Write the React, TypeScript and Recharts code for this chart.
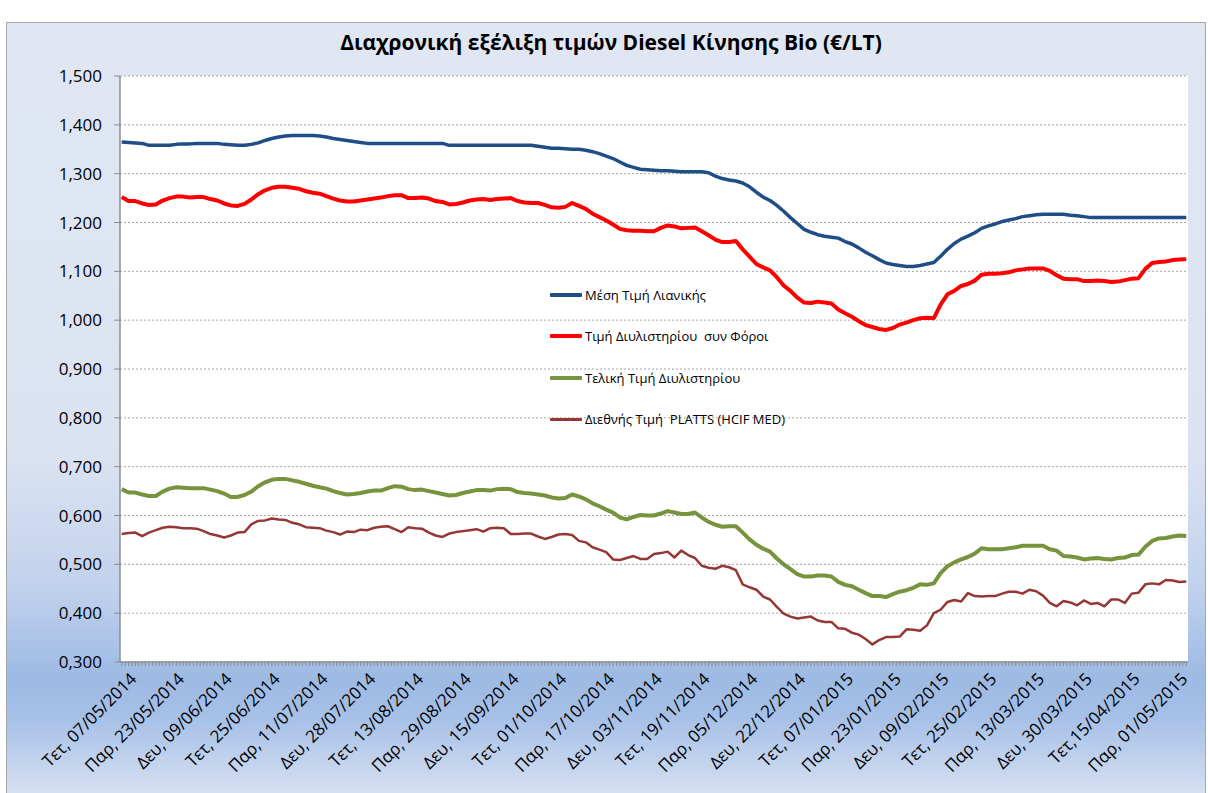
import React from 'react';
import { LineChart, Line, XAxis, YAxis, CartesianGrid, Legend } from 'recharts';

const tickLabels = [
  'Τετ, 07/05/2014', 'Παρ, 23/05/2014', 'Δευ, 09/06/2014', 'Τετ, 25/06/2014',
  'Παρ, 11/07/2014', 'Δευ, 28/07/2014', 'Τετ, 13/08/2014', 'Παρ, 29/08/2014',
  'Δευ, 15/09/2014', 'Τετ, 01/10/2014', 'Παρ, 17/10/2014', 'Δευ, 03/11/2014',
  'Τετ, 19/11/2014', 'Παρ, 05/12/2014', 'Δευ, 22/12/2014', 'Τετ, 07/01/2015',
  'Παρ, 23/01/2015', 'Δευ, 09/02/2015', 'Τετ, 25/02/2015', 'Παρ, 13/03/2015',
  'Δευ, 30/03/2015', 'Τετ,15/04/2015', 'Παρ, 01/05/2015',
];

const retailPrice = [
  1.365, 1.364, 1.363, 1.362, 1.358, 1.358, 1.358, 1.358, 1.360, 1.361,
  1.361, 1.362, 1.362, 1.362, 1.362, 1.360, 1.359, 1.358, 1.358, 1.360,
  1.363, 1.368, 1.372, 1.375, 1.377, 1.378, 1.378, 1.378, 1.378, 1.377,
  1.375, 1.372, 1.370, 1.368, 1.366, 1.364, 1.362, 1.362, 1.362, 1.362,
  1.362, 1.362, 1.362, 1.362, 1.362, 1.362, 1.362, 1.362, 1.358, 1.358,
  1.358, 1.358, 1.358, 1.358, 1.358, 1.358, 1.358, 1.358, 1.358, 1.358,
  1.358, 1.356, 1.354, 1.352, 1.352, 1.351, 1.350, 1.350, 1.348, 1.345,
  1.341, 1.336, 1.331, 1.324, 1.317, 1.313, 1.309, 1.308, 1.307, 1.306,
  1.306, 1.305, 1.304, 1.304, 1.304, 1.304, 1.302, 1.295, 1.290, 1.287,
  1.285, 1.281, 1.273, 1.262, 1.252, 1.245, 1.235, 1.223, 1.210, 1.198,
  1.186, 1.180, 1.175, 1.172, 1.170, 1.168, 1.161, 1.156, 1.148, 1.139,
  1.132, 1.124, 1.117, 1.114, 1.112, 1.110, 1.110, 1.112, 1.115, 1.118,
  1.131, 1.145, 1.157, 1.166, 1.172, 1.179, 1.188, 1.193, 1.197, 1.202,
  1.205, 1.208, 1.212, 1.214, 1.216, 1.217, 1.217, 1.217, 1.217, 1.215,
  1.214, 1.212, 1.210, 1.210, 1.210, 1.210, 1.210, 1.210, 1.210, 1.210,
  1.210, 1.210, 1.210, 1.210, 1.210, 1.210, 1.210,
];

const refineryWithTax = [
  1.252, 1.244, 1.244, 1.239, 1.236, 1.237, 1.245, 1.250, 1.253, 1.253,
  1.251, 1.252, 1.252, 1.248, 1.245, 1.239, 1.235, 1.234, 1.238, 1.247,
  1.258, 1.266, 1.271, 1.273, 1.273, 1.271, 1.269, 1.264, 1.261, 1.259,
  1.254, 1.249, 1.245, 1.243, 1.243, 1.245, 1.247, 1.249, 1.251, 1.254,
  1.256, 1.256, 1.250, 1.250, 1.251, 1.249, 1.244, 1.242, 1.237, 1.238,
  1.241, 1.245, 1.247, 1.248, 1.246, 1.248, 1.249, 1.250, 1.244, 1.241,
  1.240, 1.240, 1.236, 1.231, 1.230, 1.232, 1.240, 1.234, 1.228, 1.218,
  1.211, 1.204, 1.196, 1.187, 1.184, 1.183, 1.183, 1.182, 1.182, 1.189,
  1.194, 1.192, 1.188, 1.189, 1.190, 1.182, 1.174, 1.165, 1.160, 1.160,
  1.162, 1.145, 1.130, 1.115, 1.108, 1.102, 1.088, 1.071, 1.060, 1.046,
  1.036, 1.035, 1.038, 1.036, 1.034, 1.022, 1.014, 1.007, 0.998, 0.990,
  0.986, 0.982, 0.980, 0.984, 0.991, 0.995, 1.000, 1.004, 1.005, 1.004,
  1.032, 1.053, 1.060, 1.070, 1.074, 1.081, 1.093, 1.095, 1.095, 1.096,
  1.098, 1.102, 1.104, 1.106, 1.106, 1.106, 1.101, 1.092, 1.085, 1.084,
  1.084, 1.080, 1.080, 1.081, 1.080, 1.078, 1.079, 1.082, 1.085, 1.086,
  1.105, 1.117, 1.119, 1.120, 1.123, 1.124, 1.125,
];

const refineryFinal = [
  0.654, 0.647, 0.647, 0.643, 0.640, 0.640, 0.649, 0.655, 0.658, 0.657,
  0.656, 0.656, 0.656, 0.653, 0.650, 0.645, 0.638, 0.638, 0.642, 0.649,
  0.660, 0.668, 0.673, 0.675, 0.675, 0.672, 0.669, 0.665, 0.661, 0.658,
  0.655, 0.650, 0.646, 0.643, 0.644, 0.646, 0.649, 0.651, 0.651, 0.656,
  0.660, 0.659, 0.654, 0.652, 0.653, 0.650, 0.647, 0.644, 0.641, 0.642,
  0.646, 0.649, 0.652, 0.652, 0.651, 0.654, 0.655, 0.654, 0.648, 0.646,
  0.645, 0.643, 0.641, 0.637, 0.635, 0.636, 0.643, 0.639, 0.633, 0.625,
  0.619, 0.612, 0.606, 0.596, 0.592, 0.597, 0.601, 0.600, 0.600, 0.604,
  0.609, 0.606, 0.603, 0.603, 0.606, 0.596, 0.587, 0.581, 0.577, 0.578,
  0.578, 0.565, 0.551, 0.540, 0.532, 0.526, 0.512, 0.500, 0.490, 0.480,
  0.475, 0.475, 0.477, 0.477, 0.475, 0.464, 0.458, 0.455, 0.448, 0.441,
  0.435, 0.435, 0.433, 0.439, 0.444, 0.447, 0.452, 0.459, 0.458, 0.461,
  0.482, 0.496, 0.504, 0.510, 0.515, 0.522, 0.533, 0.531, 0.531, 0.531,
  0.533, 0.535, 0.538, 0.538, 0.538, 0.538, 0.531, 0.528, 0.517, 0.516,
  0.514, 0.510, 0.512, 0.513, 0.511, 0.510, 0.513, 0.514, 0.519, 0.520,
  0.536, 0.548, 0.553, 0.554, 0.557, 0.559, 0.558,
];

const plattsPrice = [
  0.562, 0.564, 0.565, 0.558, 0.565, 0.570, 0.575, 0.577, 0.576, 0.574,
  0.574, 0.573, 0.568, 0.562, 0.559, 0.555, 0.559, 0.565, 0.566, 0.582,
  0.589, 0.590, 0.594, 0.592, 0.591, 0.585, 0.582, 0.576, 0.575, 0.574,
  0.569, 0.566, 0.561, 0.567, 0.566, 0.571, 0.570, 0.575, 0.577, 0.578,
  0.572, 0.566, 0.576, 0.574, 0.573, 0.565, 0.559, 0.556, 0.563, 0.566,
  0.568, 0.570, 0.572, 0.567, 0.574, 0.575, 0.574, 0.562, 0.562, 0.563,
  0.563, 0.557, 0.552, 0.556, 0.561, 0.562, 0.560, 0.548, 0.545, 0.535,
  0.530, 0.525, 0.510, 0.509, 0.513, 0.517, 0.511, 0.511, 0.521, 0.523,
  0.526, 0.514, 0.528, 0.519, 0.513, 0.497, 0.493, 0.491, 0.497, 0.494,
  0.488, 0.459, 0.453, 0.448, 0.434, 0.428, 0.413, 0.399, 0.393, 0.389,
  0.391, 0.393, 0.385, 0.382, 0.382, 0.369, 0.368, 0.360, 0.356, 0.347,
  0.336, 0.345, 0.351, 0.351, 0.352, 0.367, 0.366, 0.364, 0.375, 0.400,
  0.407, 0.423, 0.427, 0.424, 0.441, 0.435, 0.434, 0.435, 0.435, 0.440,
  0.444, 0.444, 0.440, 0.448, 0.445, 0.436, 0.421, 0.414, 0.425, 0.422,
  0.416, 0.426, 0.419, 0.421, 0.414, 0.428, 0.428, 0.421, 0.440, 0.442,
  0.459, 0.461, 0.459, 0.468, 0.467, 0.464, 0.465,
];

const yTicks = [0.3, 0.4, 0.5, 0.6, 0.7, 0.8, 0.9, 1.0, 1.1, 1.2, 1.3, 1.4, 1.5];

const SAMPLE_STEP = 2; // trading days between read samples
const LABEL_STEP = 14; // trading days between axis labels
const DAY_COUNT = 313; // categories on the axis

const seriesDefs = [
  { key: 'retail', name: 'Μέση Τιμή Λιανικής', color: '#1F4E87', width: 3.5 },
  { key: 'refTax', name: 'Τιμή Διυλιστηρίου  συν Φόροι', color: '#FF0000', width: 4 },
  { key: 'refinery', name: 'Τελική Τιμή Διυλιστηρίου', color: '#77933C', width: 4 },
  { key: 'platts', name: 'Διεθνής Τιμή  PLATTS (HCIF MED)', color: '#953735', width: 2.5 },
];

const data = retailPrice.map((v, k) => ({
  day: k * SAMPLE_STEP,
  retail: v,
  refTax: refineryWithTax[k],
  refinery: refineryFinal[k],
  platts: plattsPrice[k],
}));

const dayTicks = Array.from({ length: DAY_COUNT }, (_, i) => i);

const FONT = '"Open Sans", "Noto Sans", sans-serif';

const XTick = (props: any) => {
  const { x, y, payload } = props;
  const v = payload.value;
  if (v % LABEL_STEP !== 0) return <g />;
  const label = tickLabels[v / LABEL_STEP];
  if (!label) return <g />;
  return (
    <g transform={`translate(${x + 16},${y + 12})`}>
      <text textAnchor="end" transform="rotate(-45)" fontSize={17} fontFamily={FONT} fill="#000">
        {label}
      </text>
    </g>
  );
};

const LegendContent = () => (
  <div style={{ fontFamily: FONT, fontSize: 13, color: '#000' }}>
    {seriesDefs.map((s) => (
      <div key={s.key} style={{ height: 41.5, display: 'flex', alignItems: 'center' }}>
        <div style={{ width: 32, height: s.width, background: s.color, marginRight: 3, borderRadius: 1 }} />
        <span style={{ whiteSpace: 'pre' }}>{s.name}</span>
      </div>
    ))}
  </div>
);

export default function App() {
  return (
    <div style={{ position: 'absolute', left: 0, top: 0, width: 1208, height: 793, background: '#fff', overflow: 'hidden' }}>
      <div
        style={{
          position: 'absolute', left: 6, top: 22, width: 1198, height: 780,
          border: '1px solid #a6a6a6',
          background: 'linear-gradient(to bottom, #e0e7f3 0%, #dbe3f2 55%, #c2d2ed 72%, #9dbae4 84%, #a6c0e7 89%, #dbe4f3 100%)',
        }}
      />
      <div style={{ position: 'absolute', left: 0, top: 0 }}>
        <LineChart width={1208} height={793} data={data} margin={{ top: 76, right: 20, bottom: 81, left: 60 }}>
          <text x={611} y={50} textAnchor="middle" fontFamily={FONT} fontWeight={700} fontSize={21} fill="#000">
            Διαχρονική εξέλιξη τιμών Diesel Κίνησης Bio (€/LT)
          </text>
          <CartesianGrid vertical={false} fill="#ffffff" stroke="#a6a6a6" strokeDasharray="2 2" />
          <XAxis
            dataKey="day"
            type="number"
            domain={[-0.5, DAY_COUNT - 0.5]}
            allowDataOverflow
            ticks={dayTicks}
            interval={0}
            tickSize={4}
            tickLine={{ stroke: '#8c8c8c' }}
            axisLine={{ stroke: '#8c8c8c', strokeWidth: 1.5 }}
            tick={<XTick />}
            height={50}
          />
          <YAxis
            type="number"
            domain={[0.3, 1.5]}
            ticks={yTicks}
            interval={0}
            width={60}
            tickSize={6}
            tickMargin={12}
            tickLine={{ stroke: '#8c8c8c' }}
            axisLine={{ stroke: '#8c8c8c', strokeWidth: 1.5 }}
            tick={{ fontSize: 17, fontFamily: FONT, fill: '#000' }}
            tickFormatter={(v: number) => v.toFixed(3).replace('.', ',')}
          />
          <Legend
            layout="vertical"
            align="center"
            verticalAlign="middle"
            wrapperStyle={{ left: 550, top: 274, width: 290 }}
            content={<LegendContent />}
          />
          {seriesDefs.map((s) => (
            <Line
              key={s.key}
              type="linear"
              dataKey={s.key}
              name={s.name}
              stroke={s.color}
              strokeWidth={s.width}
              strokeLinejoin="round"
              dot={false}
              activeDot={false}
              isAnimationActive={false}
            />
          ))}
        </LineChart>
      </div>
    </div>
  );
}
